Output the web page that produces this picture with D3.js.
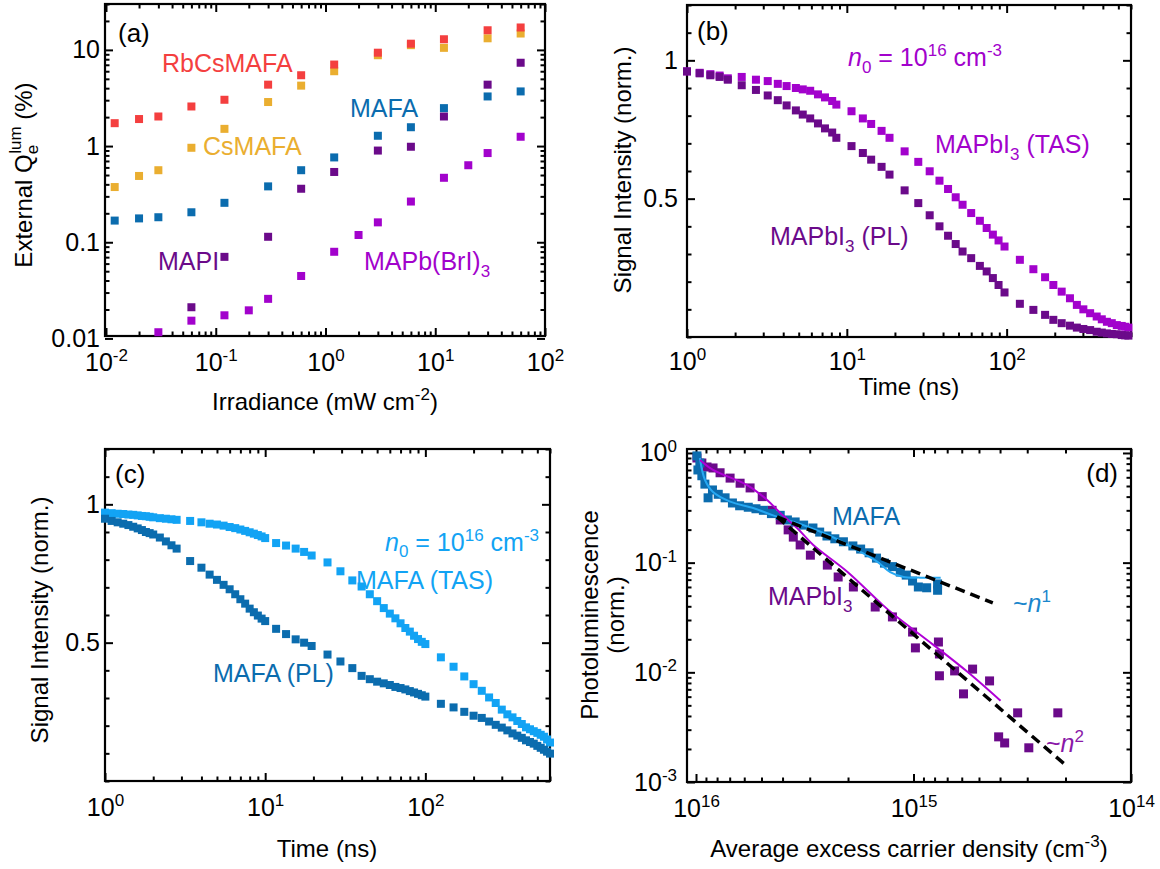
<!DOCTYPE html>
<html>
<head>
<meta charset="utf-8">
<script src="https://cdn.jsdelivr.net/npm/d3@7"></script>
<style>
  body { margin: 0; background: white; }
  svg { font-family: "Liberation Sans", Arial, sans-serif; }
</style>
</head>
<body>
<script>
//Data
//(a) external luminescence efficiency vs irradiance
var irrA = [0.012, 0.02, 0.03, 0.06, 0.12, 0.3, 0.6, 1.2, 3, 6, 12, 30, 60];
var qeRbCsMAFA = [1.73, 1.91, 2.03, 2.58, 3.03, 4.35, 5.45, 7.04, 9.35, 11.6, 12.9, 16.0, 17.1];
var qeCsMAFA = [0.375, 0.489, 0.561, 0.96, 1.51, 2.87, 4.25, 6.0, 8.8, 11.2, 10.5, 13.2, 14.8];
var qeMAFA = [0.168, 0.177, 0.182, 0.205, 0.257, 0.381, 0.561, 0.762, 1.28, 1.57, 2.48, 3.28, 3.7];
var irrMAPI = [0.06, 0.12, 0.3, 0.6, 1.2, 3, 6, 12, 30, 60];
var qeMAPI = [0.0211, 0.0705, 0.114, 0.36, 0.538, 0.898, 0.984, 2.03, 4.35, 7.35];
var irrBrI = [0.03, 0.06, 0.12, 0.2, 0.3, 0.6, 1.2, 2, 3, 6, 12, 20, 30, 60];
var qeBrI = [0.0116, 0.0153, 0.0174, 0.0196, 0.0258, 0.0446, 0.0796, 0.119, 0.161, 0.265, 0.468, 0.632, 0.846, 1.25];

//(b) MAPbI3 transients
var timeB = [1.0, 1.2, 1.4, 1.6, 1.8,
    2.2, 2.7, 3.2, 3.7, 4.2, 4.8, 5.3, 5.9, 6.6, 7.3, 8.1, 8.6,
    10.7, 12.6, 14.2, 16.5, 18.5,
    23, 28, 33, 38, 43, 48, 53, 60, 68, 75, 82, 89, 97,
    121, 147, 174, 196, 221, 249, 275, 302, 333, 366, 394, 424, 455, 489, 525, 551, 578];
var tasMAPI = [0.96, 0.955, 0.95, 0.945, 0.935,
    0.94, 0.93, 0.925, 0.915, 0.907, 0.90, 0.895, 0.89, 0.877, 0.866, 0.853, 0.84,
    0.816, 0.79, 0.77, 0.745, 0.72,
    0.671, 0.633, 0.599, 0.565, 0.535, 0.505, 0.478, 0.448, 0.420, 0.394, 0.370, 0.349, 0.327,
    0.279, 0.245, 0.216, 0.188, 0.164, 0.140, 0.116, 0.100, 0.086, 0.074, 0.064, 0.055, 0.050, 0.043, 0.040, 0.037, 0.034];
var plMAPIt = [0.96, 0.953, 0.946, 0.94, 0.93,
    0.91, 0.893, 0.873, 0.856, 0.837, 0.819, 0.804, 0.79, 0.772, 0.754, 0.739, 0.72,
    0.69, 0.665, 0.641, 0.615, 0.587,
    0.530, 0.484, 0.440, 0.400, 0.366, 0.336, 0.309, 0.285, 0.257, 0.237, 0.213, 0.188, 0.161,
    0.120, 0.098, 0.080, 0.062, 0.050, 0.041, 0.034, 0.029, 0.025, 0.019, 0.016, 0.013, 0.011, 0.010, 0.007, 0.006, 0.005];

//(c) MAFA transients
var timeC = [1.0, 1.1, 1.2, 1.3, 1.4, 1.5, 1.6, 1.7, 1.8, 1.9, 2.0, 2.2, 2.4, 2.6, 2.8,
    3.4, 4.0, 4.5, 5.0, 5.5, 6.0, 6.5, 7.0, 7.5, 8.0, 8.5, 9.0, 9.5, 10.0,
    11.7, 13.5, 15.5, 17.5, 19.5,
    24.5, 29.5, 35, 40, 45, 50, 55, 60, 65, 70, 75, 80, 85, 90, 95, 100,
    125, 150, 175, 200, 225, 250, 275, 300, 325, 350, 375, 400, 425, 450, 475, 500, 525, 550, 575, 600];
var tasMAFA = [0.970, 0.968, 0.966, 0.965, 0.963, 0.962, 0.960, 0.958, 0.957, 0.955, 0.953, 0.950, 0.948, 0.946, 0.944,
    0.940, 0.935, 0.930, 0.927, 0.923, 0.918, 0.914, 0.909, 0.904, 0.899, 0.894, 0.889, 0.884, 0.878,
    0.860, 0.851, 0.840, 0.828, 0.815,
    0.790, 0.758, 0.725, 0.703, 0.675, 0.650, 0.625, 0.605, 0.588, 0.570, 0.553, 0.540, 0.525, 0.513, 0.503, 0.495,
    0.447, 0.413, 0.378, 0.350, 0.326, 0.302, 0.282, 0.258, 0.241, 0.230, 0.217, 0.206, 0.194, 0.187, 0.180, 0.174, 0.167, 0.160, 0.150, 0.139];
var plMAFAt = [0.948, 0.940, 0.935, 0.930, 0.925, 0.919, 0.913, 0.907, 0.900, 0.896, 0.891, 0.880, 0.866, 0.852, 0.840,
    0.795, 0.771, 0.746, 0.727, 0.709, 0.693, 0.675, 0.657, 0.641, 0.623, 0.610, 0.598, 0.587, 0.578,
    0.550, 0.531, 0.512, 0.500, 0.488,
    0.457, 0.432, 0.408, 0.380, 0.368, 0.359, 0.353, 0.347, 0.340, 0.336, 0.331, 0.325, 0.320, 0.315, 0.310, 0.305,
    0.279, 0.266, 0.250, 0.236, 0.228, 0.215, 0.203, 0.193, 0.183, 0.172, 0.164, 0.156, 0.147, 0.141, 0.135, 0.127, 0.120, 0.113, 0.106, 0.099];

//(d) PL vs average carrier density
var nMAFA = [9.9e15, 9.6e15, 9.8e15, 9.4e15, 9.1e15, 8.8e15, 8.4e15, 7.9e15, 7.35e15, 6.8e15,
    6.3e15, 5.75e15, 5.3e15, 4.9e15, 4.5e15, 4.1e15, 3.8e15, 3.5e15, 3.2e15, 2.9e15,
    2.7e15, 2.5e15, 2.3e15, 2.1e15, 1.9e15, 1.75e15, 1.6e15, 1.48e15, 1.36e15, 1.25e15,
    1.15e15, 1.08e15, 1.01e15, 9.5e14, 8.7e14, 7.75e14, 7.75e14];
var plMAFAn = [0.94, 0.81, 0.70, 0.62, 0.52, 0.39, 0.46, 0.42, 0.39, 0.35,
    0.33, 0.32, 0.31, 0.30, 0.28, 0.27, 0.245, 0.235, 0.22, 0.207,
    0.19, 0.175, 0.165, 0.155, 0.142, 0.133, 0.123, 0.11, 0.099, 0.092,
    0.082, 0.077, 0.068, 0.06, 0.059, 0.064, 0.056];
var nMAPI = [9.9e15, 9.4e15, 8.9e15, 8.35e15, 7.75e15, 6.97e15, 6.27e15, 5.64e15, 4.96e15, 4.47e15,
    4.1e15, 3.77e15, 3.57e15, 3.32e15, 2.98e15, 2.49e15, 2.22e15, 1.89e15, 1.50e15, 1.25e15,
    1.01e15, 9.8e14, 7.68e14, 7.6e14, 7.6e14, 6.47e14, 5.89e14, 5.35e14, 4.47e14, 4.06e14,
    3.81e14, 3.32e14, 2.95e14, 2.17e14];
var plMAPIn = [0.90, 0.81, 0.745, 0.73, 0.66, 0.59, 0.53, 0.48, 0.40, 0.30,
    0.245, 0.199, 0.171, 0.145, 0.117, 0.095, 0.074, 0.060, 0.0394, 0.032,
    0.0233, 0.0167, 0.0189, 0.0147, 0.0093, 0.0103, 0.00636, 0.0107, 0.00835, 0.00258,
    0.00227, 0.00427, 0.00205, 0.00427];
//smoothed curves
var smoothMAFAn = [9.6e15, 9.1e15, 8.35e15, 6.97e15, 5.46e15, 4.42e15, 3.32e15, 2.41e15, 1.75e15, 1.46e15, 1.28e15, 1.11e15, 9.3e14, 7.5e14];
var smoothMAFApl = [0.90, 0.57, 0.44, 0.36, 0.315, 0.27, 0.225, 0.175, 0.125, 0.101, 0.082, 0.074, 0.073, 0.073];
var smoothMAPIn = [9.58e15, 8.35e15, 5.82e15, 4.71e15, 4.1e15, 3.43e15, 2.89e15, 2.01e15, 1.42e15, 1.24e15, 8.1e14, 5.65e14, 3.98e14];
var smoothMAPIpl = [0.863, 0.70, 0.51, 0.373, 0.284, 0.207, 0.145, 0.0822, 0.043, 0.034, 0.0178, 0.0101, 0.0055];
//power-law guides
var guide1n = [4.24e15, 4.32e14];
var guide1pl = [0.261, 0.043];
var guide2n = [4.24e15, 2.04e14];
var guide2pl = [0.261, 0.00148];

//Tick values
var ticksA_x = [0.01, 0.1, 1, 10, 100];
var ticksA_y = [0.01, 0.1, 1, 10];
var labelsA_y = ["0.01", "0.1", "1", "10"];
var ticksTime = [1, 10, 100];
var ticksNorm = [0.5, 1];
var labelsNorm = ["0.5", "1"];
var ticksD_x = [1e16, 1e15, 1e14];
var ticksD_y = [1, 0.1, 0.01, 0.001];

//Colours
var cRed = "#f43f3f";
var cOrange = "#eaae30";
var cBlue = "#0b6cae";
var cDarkPurple = "#6b0a8a";
var cPurple = "#a202cc";
var cLightBlue = "#12a3f4";
var cBlueLine = "#26a8f2";
var cMagenta = "#b000d6";

//SVG
var w = 1160;
var h = 869;
var fontSize = 25;
var svg = d3.select("body").append("svg")
    .attr("width", w)
    .attr("height", h);

//Panel boxes
var boxA = {l: 105, r: 545, t: 4, b: 336};
var boxB = {l: 687, r: 1131, t: 5, b: 337};
var boxC = {l: 105, r: 550, t: 449, b: 781};
var boxD = {l: 687, r: 1131, t: 449, b: 782};

//Scales
var xA = d3.scaleLog().domain([0.01, 100]).range([boxA.l + 1, boxA.r]);
var yA = d3.scaleLog().domain([0.0106, 30]).range([boxA.b, boxA.t]);
var xB = d3.scaleLog().domain([1, 600]).range([boxB.l, boxB.r]);
var yB = d3.scaleLinear().domain([0, 1.2]).range([boxB.b, boxB.t]);
var xC = d3.scaleLog().domain([1, 600]).range([boxC.l, boxC.r]);
var yC = d3.scaleLinear().domain([0, 1.2]).range([boxC.b, boxC.t]);
var xD = d3.scaleLog().domain([1.1e16, 1e14]).range([boxD.l, boxD.r]);
var yD = d3.scaleLog().domain([1e-3, 1.087]).range([boxD.b, boxD.t]);

//Helpers
function isPow10(v) {
    var e = Math.log10(v);
    return Math.abs(e - Math.round(e)) < 1e-6;
}

function tidy(g) {
    g.attr("font-family", null).attr("font-size", fontSize);
    g.select(".domain").remove();
    g.selectAll(".tick line").attr("stroke-width", 2);
    g.selectAll(".tick text").attr("fill", "black");
}

function powLabels(g) {
    g.selectAll(".tick text").each(function (d) {
        var e = Math.round(Math.log10(d));
        var t = d3.select(this).text("10");
        t.append("tspan").attr("dy", "-0.55em").attr("font-size", 17).text(e);
    });
}

//Draw box, major/minor ticks on all four sides
function drawAxes(box, x, y, o) {
    var sides = [
        {axis: d3.axisBottom, s: x, at: "translate(0," + box.b + ")", major: o.xMajor, minor: o.xMinor, label: true, pad: o.xPad},
        {axis: d3.axisTop, s: x, at: "translate(0," + box.t + ")", major: o.xMajor, minor: o.xMinor, label: false},
        {axis: d3.axisLeft, s: y, at: "translate(" + box.l + ",0)", major: o.yMajor, minor: o.yMinor, label: true, pad: o.yPad},
        {axis: d3.axisRight, s: y, at: "translate(" + box.r + ",0)", major: o.yMajor, minor: o.yMinor, label: false}
    ];
    sides.forEach(function (sd) {
        svg.append("g").attr("transform", sd.at)
            .call(sd.axis(sd.s).tickValues(sd.minor).tickSize(-4.5).tickFormat(""))
            .call(tidy);
        var g = svg.append("g").attr("transform", sd.at);
        var ax = sd.axis(sd.s).tickValues(sd.major).tickSize(-8);
        if (sd.label) {
            var isX = (sd.s === x);
            var fmt = isX ? o.xFmt : o.yFmt;
            ax.tickPadding(sd.pad).tickFormat(fmt === "pow" ? function (d) { return "10"; } : fmt);
            g.call(ax).call(tidy);
            if (fmt === "pow") g.call(powLabels);
        } else {
            g.call(ax.tickFormat("")).call(tidy);
        }
    });
    svg.append("rect")
        .attr("x", box.l)
        .attr("y", box.t)
        .attr("width", box.r - box.l)
        .attr("height", box.b - box.t)
        .attr("fill", "none")
        .attr("stroke", "black")
        .attr("stroke-width", 2.2);
}

function squares(xs, ys, x, y, color, size) {
    svg.append("g").selectAll("rect")
        .data(d3.zip(xs, ys))
        .enter().append("rect")
        .attr("x", function (d) { return x(d[0]) - size / 2; })
        .attr("y", function (d) { return y(d[1]) - size / 2; })
        .attr("width", size)
        .attr("height", size)
        .attr("fill", color);
}

function curve(xs, ys, x, y, color, width, dash) {
    var line = d3.line()
        .x(function (d) { return x(d[0]); })
        .y(function (d) { return y(d[1]); })
        .curve(d3.curveCatmullRom);
    svg.append("path")
        .attr("d", line(d3.zip(xs, ys)))
        .attr("fill", "none")
        .attr("stroke", color)
        .attr("stroke-width", width)
        .attr("stroke-dasharray", dash || null);
}

//text with runs: [text, {dy, size, italic, dx}]
function label(xp, yp, color, runs, opts) {
    opts = opts || {};
    var t = svg.append("text")
        .attr("x", xp)
        .attr("y", yp)
        .attr("fill", color)
        .attr("font-size", opts.size || fontSize)
        .attr("text-anchor", opts.anchor || "start");
    if (opts.rotate) t.attr("x", 0).attr("y", 0).attr("transform", "translate(" + xp + "," + yp + ") rotate(-90)");
    runs.forEach(function (r) {
        var s = t.append("tspan").text(r[0]);
        var p = r[1] || {};
        if (p.dy) s.attr("dy", p.dy);
        if (p.dx) s.attr("dx", p.dx);
        if (p.size) s.attr("font-size", p.size);
        if (p.italic) s.attr("font-style", "italic");
    });
    return t;
}

var sup = 17;

//Panel (a)
drawAxes(boxA, xA, yA, {
    xMajor: ticksA_x, xMinor: xA.ticks().filter(function (v) { return !isPow10(v); }),
    yMajor: ticksA_y, yMinor: yA.ticks().filter(function (v) { return !isPow10(v); }),
    xFmt: "pow", yFmt: function (d, i) { return labelsA_y[i]; }, xPad: 17, yPad: 5
});
squares(irrBrI, qeBrI, xA, yA, cPurple, 8);
squares(irrMAPI, qeMAPI, xA, yA, cDarkPurple, 8);
squares(irrA, qeMAFA, xA, yA, cBlue, 8);
squares(irrA, qeCsMAFA, xA, yA, cOrange, 8);
squares(irrA, qeRbCsMAFA, xA, yA, cRed, 8);
label(118, 42, "black", [["(a)"]], {size: 26});
label(162, 72, cRed, [["RbCsMAFA"]]);
label(203, 155, cOrange, [["CsMAFA"]]);
label(350, 117, cBlue, [["MAFA"]]);
label(158, 270, cDarkPurple, [["MAPI"]]);
label(364, 270, cPurple, [["MAPb(BrI)"], ["3", {dy: 7, size: sup}]]);
label(32, 175, "black", [["External Q"], ["e", {dy: 6, size: sup}], ["lum", {dx: -9, dy: -17, size: sup}], [" (%)", {dy: 11}]], {rotate: true, anchor: "middle", size: 24});
label(325, 410, "black", [["Irradiance (mW cm"], ["-2", {dy: -10, size: sup}], [")", {dy: 10}]], {anchor: "middle", size: 24});

//Panel (b)
drawAxes(boxB, xB, yB, {
    xMajor: ticksTime, xMinor: xB.ticks().filter(function (v) { return !isPow10(v); }),
    yMajor: ticksNorm, yMinor: yB.ticks(12).filter(function (v) { return ticksNorm.indexOf(v) < 0; }),
    xFmt: "pow", yFmt: function (d, i) { return labelsNorm[i]; }, xPad: 15, yPad: 9
});
squares(timeB, tasMAPI, xB, yB, cPurple, 8);
squares(timeB, plMAPIt, xB, yB, cDarkPurple, 8);
label(697, 40, "black", [["(b)"]], {size: 26});
label(848, 66, cPurple, [["n", {italic: true}], ["0", {dy: 7, size: sup}], [" = 10", {dy: -7}], ["16", {dy: -10, size: sup}], [" cm", {dy: 10}], ["-3", {dy: -10, size: sup}]]);
label(935, 153, cPurple, [["MAPbI"], ["3", {dy: 7, size: sup}], [" (TAS)", {dy: -7}]]);
label(770, 245, cDarkPurple, [["MAPbI"], ["3", {dy: 7, size: sup}], [" (PL)", {dy: -7}]]);
label(631, 170, "black", [["Signal Intensity (norm.)"]], {rotate: true, anchor: "middle", size: 24});
label(909, 395, "black", [["Time (ns)"]], {anchor: "middle", size: 24});

//Panel (c)
drawAxes(boxC, xC, yC, {
    xMajor: ticksTime, xMinor: xC.ticks().filter(function (v) { return !isPow10(v); }),
    yMajor: ticksNorm, yMinor: yC.ticks(12).filter(function (v) { return ticksNorm.indexOf(v) < 0; }),
    xFmt: "pow", yFmt: function (d, i) { return labelsNorm[i]; }, xPad: 17, yPad: 5
});
squares(timeC, tasMAFA, xC, yC, cLightBlue, 8);
squares(timeC, plMAFAt, xC, yC, cBlue, 8);
label(115, 483, "black", [["(c)"]], {size: 26});
label(385, 551, cLightBlue, [["n", {italic: true}], ["0", {dy: 6, size: sup}], [" = 10", {dy: -6}], ["16", {dy: -10, size: sup}], [" cm", {dy: 10}], ["-3", {dy: -10, size: sup}]]);
label(356, 589, cLightBlue, [["MAFA (TAS)"]]);
label(213, 682, cBlue, [["MAFA (PL)"]]);
label(48, 620, "black", [["Signal Intensity (norm.)"]], {rotate: true, anchor: "middle", size: 24});
label(327, 857, "black", [["Time (ns)"]], {anchor: "middle", size: 24});

//Panel (d)
drawAxes(boxD, xD, yD, {
    xMajor: ticksD_x, xMinor: xD.ticks().filter(function (v) { return !isPow10(v); }),
    yMajor: ticksD_y, yMinor: yD.ticks().filter(function (v) { return !isPow10(v); }),
    xFmt: "pow", yFmt: "pow", xPad: 17, yPad: 10
});
squares(nMAPI, plMAPIn, xD, yD, cDarkPurple, 9);
squares(nMAFA, plMAFAn, xD, yD, cBlue, 9);
curve(smoothMAFAn, smoothMAFApl, xD, yD, cBlueLine, 2);
curve(smoothMAPIn, smoothMAPIpl, xD, yD, cMagenta, 2);
curve(guide1n, guide1pl, xD, yD, "black", 3.5, "10,6");
curve(guide2n, guide2pl, xD, yD, "black", 3.5, "10,6");
label(1118, 482, "black", [["(d)"]], {size: 26, anchor: "end"});
label(832, 525, cBlue, [["MAFA"]]);
label(768, 605, cDarkPurple, [["MAPbI"], ["3", {dy: 7, size: sup}]]);
label(1013, 612, "#1a86cc", [["~"], ["n", {italic: true}], ["1", {dy: -10, size: sup}]]);
label(1046, 752, "#8a18a8", [["~"], ["n", {italic: true}], ["2", {dy: -10, size: sup}]]);
label(598, 615, "black", [["Photoluminescence"]], {rotate: true, anchor: "middle", size: 24});
label(624, 615, "black", [["(norm.)"]], {rotate: true, anchor: "middle", size: 24});
label(909, 857, "black", [["Average excess carrier density (cm"], ["-3", {dy: -10, size: sup}], [")", {dy: 10}]], {anchor: "middle", size: 24});
</script>
</body>
</html>
